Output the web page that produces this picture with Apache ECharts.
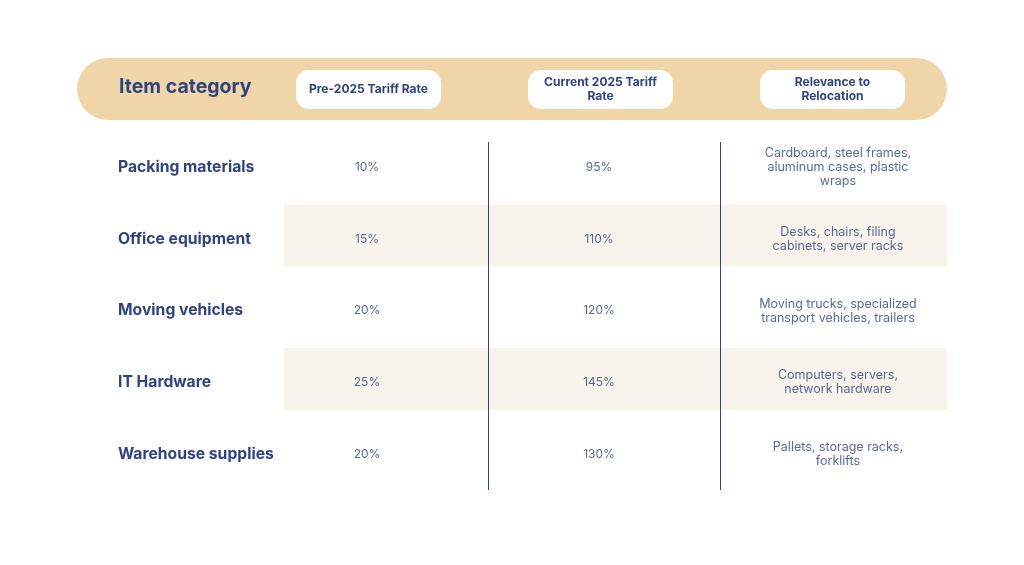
<!DOCTYPE html>
<html>
<head>
<meta charset="utf-8">
<script src="https://cdn.jsdelivr.net/npm/echarts@6/dist/echarts.min.js"></script>
<style>
  html, body { margin: 0; padding: 0; background: #ffffff; }
  #chart { width: 1024px; height: 565px; }
</style>
</head>
<body>
<div id="chart"></div>
<script>
// --- table content ---
const headers = ['Item category', 'Pre-2025 Tariff Rate', 'Current 2025 Tariff\nRate', 'Relevance to\nRelocation'];
const categories = ['Packing materials', 'Office equipment', 'Moving vehicles', 'IT Hardware', 'Warehouse supplies'];
const preRates = [10, 15, 20, 25, 20];
const currentRates = [95, 110, 120, 145, 130];
const relevance = [
    'Cardboard, steel frames,\naluminum cases, plastic\nwraps',
    'Desks, chairs, filing\ncabinets, server racks',
    'Moving trucks, specialized\ntransport vehicles, trailers',
    'Computers, servers,\nnetwork hardware',
    'Pallets, storage racks,\nforklifts'
];
const shadedRows = [1, 3];

const navy = '#2f4380';
const font = 'Inter';

const chart = echarts.init(document.getElementById('chart'));

// column axis: 0 = category, 1 = pre-2025, 2 = current, 3 = relevance
const colAxis = { type: 'value', min: -0.25, max: 3.5, show: false };

const option = {
    backgroundColor: '#ffffff',
    animation: false,
    textStyle: { fontFamily: font },
    grid: [
        { left: 77, right: 77, top: 58, height: 62 },
        { left: 77, right: 77, top: 131.5, height: 358.5 }
    ],
    xAxis: [
        Object.assign({ gridIndex: 0 }, colAxis),
        Object.assign({ gridIndex: 1 }, colAxis)
    ],
    yAxis: [
        { gridIndex: 0, type: 'value', min: 0, max: 1, show: false },
        {
            gridIndex: 1, type: 'category', data: categories, inverse: true,
            axisLine: { show: false }, axisTick: { show: false }, splitLine: { show: false },
            axisLabel: { align: 'left', margin: -41, color: navy, fontFamily: font, fontWeight: 'bold', fontSize: 15.7 }
        }
    ],
    series: [
        // header band
        {
            type: 'custom', xAxisIndex: 0, yAxisIndex: 0, silent: true,
            data: [[0, 0]],
            renderItem: (params) => {
                const cs = params.coordSys;
                return { type: 'rect', shape: { x: cs.x, y: cs.y, width: cs.width, height: cs.height, r: 31 }, style: { fill: '#f0d5a8' } };
            }
        },
        // header cells
        {
            type: 'custom', xAxisIndex: 0, yAxisIndex: 0, silent: true,
            data: headers.map((h, i) => [i, 0.5, h]),
            renderItem: (params, api) => {
                const i = api.value(0);
                const p = api.coord([i, 0.5]);
                const text = headers[i];
                if (i === 0) {
                    return { type: 'text', x: p[0] - 16, y: p[1] - 2, style: { text, fill: navy, font: `bold 19.5px ${font}`, textAlign: 'left', textVerticalAlign: 'middle' } };
                }
                return {
                    type: 'group',
                    children: [
                        { type: 'rect', shape: { x: p[0] - 71, y: p[1] - 19, width: 145, height: 39, r: 13 }, style: { fill: '#ffffff' } },
                        { type: 'text', x: p[0] + 1.5, y: p[1], style: { text, fill: navy, font: `bold 12px ${font}`, lineHeight: 14, textAlign: 'center', textVerticalAlign: 'middle' } }
                    ]
                };
            }
        },
        // shaded rows
        {
            type: 'custom', xAxisIndex: 1, yAxisIndex: 1, silent: true, z: 1,
            data: shadedRows.map(r => [0, r]),
            renderItem: (params, api) => {
                const cs = params.coordSys;
                const c = api.coord([0.642, api.value(1)]);
                const h = 62;
                return { type: 'rect', shape: { x: c[0], y: c[1] - h / 2 - 3.5, width: cs.x + cs.width - c[0], height: h }, style: { fill: '#f8f3eb' } };
            }
        },
        // column dividers
        {
            type: 'custom', xAxisIndex: 1, yAxisIndex: 1, silent: true, z: 2,
            data: [[1.52, 0], [2.52, 0]],
            renderItem: (params, api) => {
                const cs = params.coordSys;
                const x = Math.round(api.coord([api.value(0), 0])[0]) + 0.5;
                return { type: 'line', shape: { x1: x, y1: cs.y + 10.5, x2: x, y2: cs.y + cs.height }, style: { stroke: navy, lineWidth: 1 } };
            }
        },
        // pre-2025 rates
        {
            type: 'scatter', xAxisIndex: 1, yAxisIndex: 1, z: 3, symbolSize: 1,
            itemStyle: { color: 'rgba(0,0,0,0)' },
            data: preRates.map((v, i) => [1, i, v]),
            label: { show: true, position: 'inside', formatter: p => p.value[2] + '%', color: navy, fontFamily: font, fontSize: 12 }
        },
        // current rates
        {
            type: 'scatter', xAxisIndex: 1, yAxisIndex: 1, z: 3, symbolSize: 1,
            itemStyle: { color: 'rgba(0,0,0,0)' },
            data: currentRates.map((v, i) => [2, i, v]),
            label: { show: true, position: 'inside', formatter: p => p.value[2] + '%', color: navy, fontFamily: font, fontSize: 12 }
        },
        // relevance notes
        {
            type: 'scatter', xAxisIndex: 1, yAxisIndex: 1, z: 3, symbolSize: 1,
            itemStyle: { color: 'rgba(0,0,0,0)' },
            data: relevance.map((t, i) => [3.03, i, t]),
            label: { show: true, position: 'inside', formatter: p => p.value[2], color: navy, fontFamily: font, fontSize: 12.5, lineHeight: 14, align: 'center' }
        }
    ]
};

chart.setOption(option);
</script>
</body>
</html>
